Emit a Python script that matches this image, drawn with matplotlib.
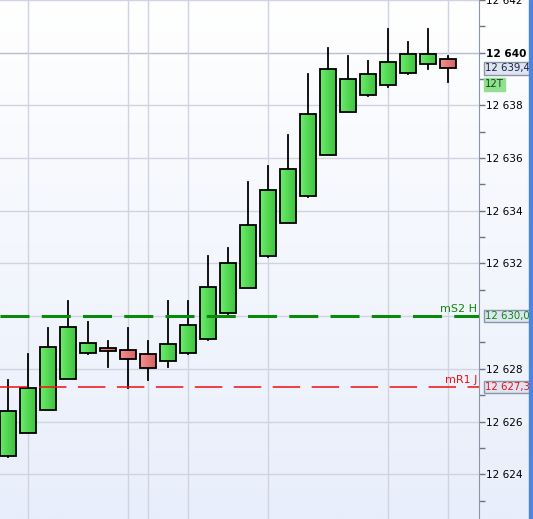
import matplotlib.pyplot as plt
import matplotlib.colors as mcolors
import numpy as np
from matplotlib.patches import Rectangle

# OHLC, one candle per slot
opens = [12624.69, 12625.57, 12626.44, 12627.62, 12628.60, 12628.79, 12628.72, 12628.57,
         12628.30, 12628.60, 12629.13, 12630.12, 12631.07, 12632.28, 12633.54, 12634.56,
         12636.12, 12637.75, 12638.39, 12638.77, 12639.23, 12639.58, 12639.76]
highs = [12627.59, 12628.58, 12629.56, 12630.59, 12629.79, 12629.07, 12629.56, 12629.07,
         12630.59, 12630.59, 12632.30, 12632.60, 12635.10, 12635.71, 12636.89, 12639.21,
         12640.19, 12639.89, 12639.70, 12640.91, 12640.42, 12640.91, 12639.87]
lows = [12624.65, 12625.55, 12626.42, 12627.60, 12628.55, 12628.06, 12627.26, 12627.56,
        12628.06, 12628.55, 12629.11, 12630.10, 12631.05, 12632.26, 12633.52, 12634.54,
        12636.10, 12637.73, 12638.37, 12638.68, 12639.21, 12639.37, 12638.89]
closes = [12626.40, 12627.28, 12628.83, 12629.59, 12628.98, 12628.68, 12628.38, 12628.03,
          12628.94, 12629.67, 12631.11, 12632.02, 12633.46, 12634.79, 12635.59, 12637.67,
          12639.38, 12639.00, 12639.19, 12639.65, 12639.95, 12639.95, 12639.40]

time_grid = [1, 6, 7, 9, 13, 19, 22]
level_names = ['mS2 H', 'mR1 J']
level_values = [12630.0, 12627.3]
level_colors = ['#0a8a0a', '#f01010']
price_ticks = [12624, 12626, 12628, 12632, 12634, 12636, 12638, 12640, 12642]
last_label = '12T'

W, H = 533, 519
fig = plt.figure(figsize=(W / 100, H / 100), dpi=100)

# background gradient over the whole figure
bg = fig.add_axes([0, 0, 1, 1])
grad = np.linspace(0, 1, 256).reshape(-1, 1)
bg_cmap = mcolors.LinearSegmentedColormap.from_list('bg', ['#ffffff', '#e8eefb'])
bg.imshow(grad, aspect='auto', cmap=bg_cmap, extent=[0, 1, 0, 1])
bg.set_xlim(0, 1)
bg.set_ylim(0, 1)
bg.axis('off')

ax = fig.add_axes([0, 0, 479 / W, 1])
ax.patch.set_alpha(0)

ymin, ymax = 12622.30, 12642.0

# grid
for v in range(12622, 12643, 2):
    ax.axhline(v, color='#b8bfd2' if v == 12640 else '#d0d4e2', lw=1, zorder=1)
for g in time_grid:
    ax.axvline(g, color='#d0d4e2', lw=1, zorder=1)

green_cmap = mcolors.LinearSegmentedColormap.from_list('g', ['#6cec6c', '#3ec43e'])
red_cmap = mcolors.LinearSegmentedColormap.from_list('r', ['#f69090', '#d46262'])
hgrad = np.linspace(0, 1, 64).reshape(1, -1)

bw = 0.8
for i, (o, h, l, c) in enumerate(zip(opens, highs, lows, closes)):
    top, bot = max(o, c), min(o, c)
    ax.plot([i, i], [bot, l], color='black', lw=1.3, zorder=3)
    ax.plot([i, i], [top, h], color='black', lw=1.3, zorder=3)
    rect = Rectangle((i - bw / 2, bot), bw, top - bot, facecolor='none',
                     edgecolor='black', lw=1.3, zorder=5)
    ax.add_patch(rect)
    im = ax.imshow(hgrad, aspect='auto', cmap=green_cmap if c >= o else red_cmap,
                   extent=[i - bw / 2, i + bw / 2, bot, top], zorder=4)
    im.set_clip_path(rect)

# pivot levels
ax.axhline(level_values[0], color=level_colors[0], lw=2.2, dashes=(9.5, 4), zorder=6)
ax.axhline(level_values[1], color=level_colors[1], lw=1.1, dashes=(18, 7.5), zorder=6)
for name, val, col in zip(level_names, level_values, level_colors):
    ax.text(23.5, val + 0.08, name, color=col, fontsize=8, ha='right', va='bottom', zorder=7)

ax.set_xlim(-0.375, 23.575)
ax.set_ylim(ymin, ymax)

ax.set_xticks([])
for s in ['top', 'bottom', 'left']:
    ax.spines[s].set_visible(False)
ax.spines['right'].set_color('#8a96a6')
ax.yaxis.tick_right()
ax.set_yticks(price_ticks)
ax.set_yticks(range(12623, 12643, 2), minor=True)
ax.set_yticklabels([f'{t:,}'.replace(',', ' ') for t in price_ticks], fontsize=7.6)
ax.tick_params(axis='y', which='major', length=4, width=1, color='#6a7686', pad=1)
ax.tick_params(axis='y', which='minor', length=4, width=1, color='#6a7686')
for lab in ax.get_yticklabels():
    if lab.get_text() == '12 640':
        lab.set_fontweight('bold')

def fmt(v):
    return f'{v:,.1f}'.replace(',', ' ').replace('.', ',')

def price_box(val, txt, col, face, edge='#8a96a6'):
    ax.annotate(txt, xy=(1, val), xycoords=('axes fraction', 'data'),
                xytext=(4.2, 0), textcoords='offset points', fontsize=7.3, color=col,
                ha='left', va='center', zorder=8, annotation_clip=False,
                bbox=dict(boxstyle='square,pad=0.12', fc=face, ec=edge, lw=1))

price_box(closes[-1], fmt(closes[-1]), '#202040', '#dde4f2')
price_box(level_values[0], fmt(level_values[0]), level_colors[0], '#dde4f2')
price_box(level_values[1], fmt(level_values[1]), level_colors[1], '#dde4f2')
price_box(closes[-1] - 0.6, last_label, '#1a401a', '#8fe08f', '#8fe08f')

# blue strip on the right edge, drawn above everything
fig.patches.append(Rectangle((529 / W, 0), 4 / W, 1, color='#4a86e0',
                             transform=fig.transFigure, zorder=10))

fig.savefig('out.png', dpi=100)
